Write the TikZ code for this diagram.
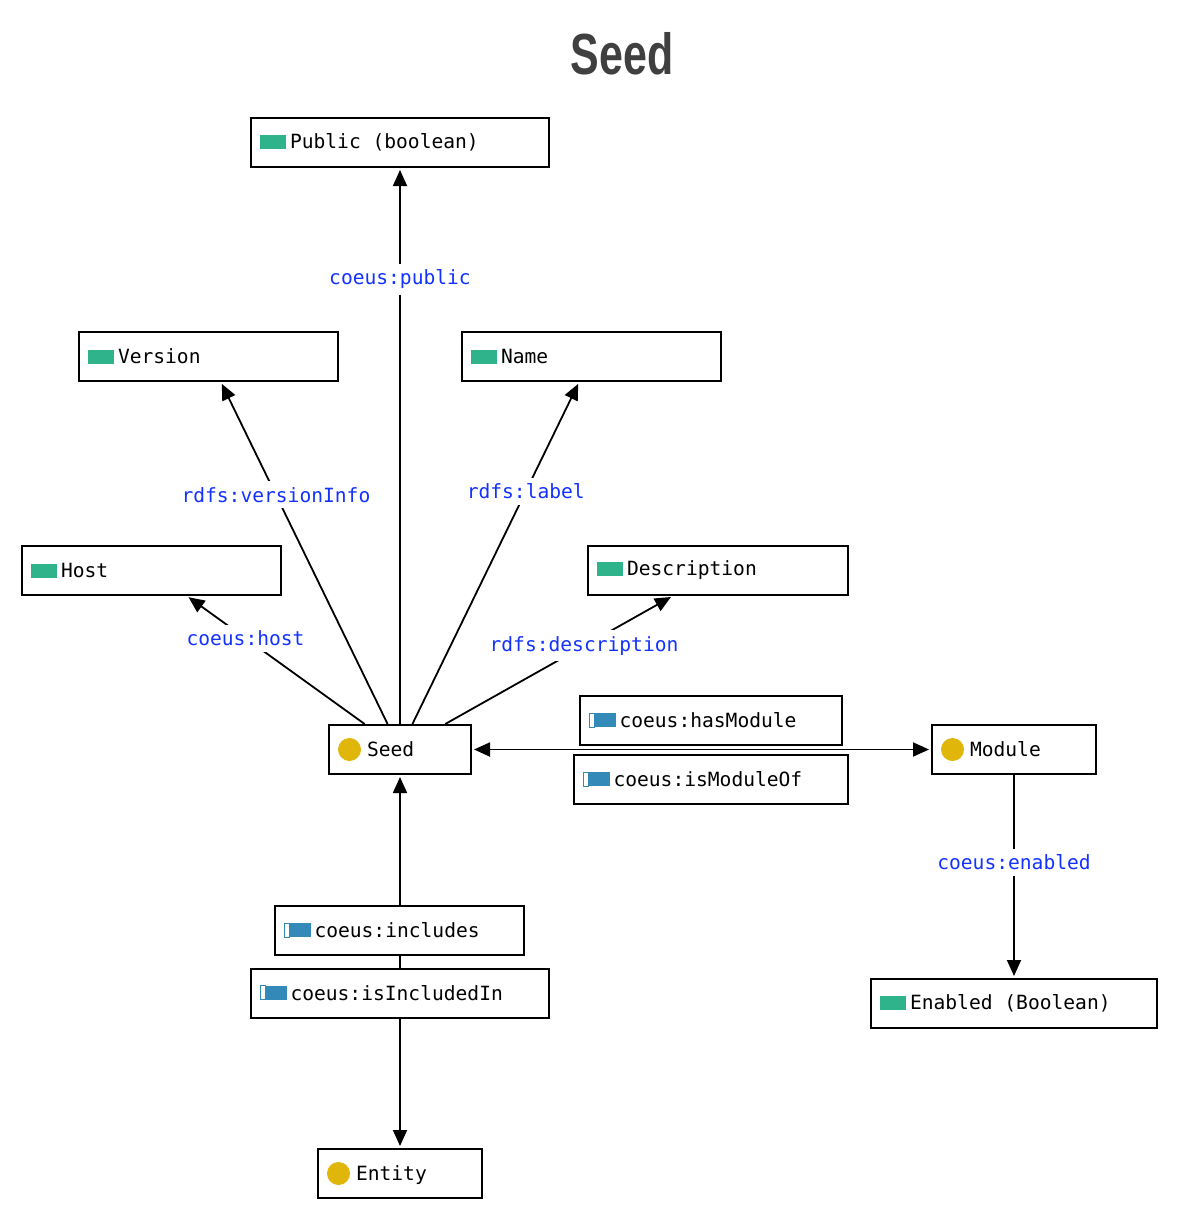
\documentclass[tikz,border=0pt]{standalone}
\usepackage{fontspec}
\setmonofont{DejaVu Sans Mono}
\newfontfamily\titlefont{Liberation Sans}
\usetikzlibrary{arrows.meta}
\definecolor{propgreen}{RGB}{46,179,139}
\definecolor{classyellow}{RGB}{224,182,10}
\definecolor{objblue}{RGB}{51,138,184}
\definecolor{linkblue}{RGB}{20,50,255}
\definecolor{titlegray}{RGB}{64,64,64}
\newcommand{\propicon}{\textcolor{propgreen}{\rule{13pt}{7pt}}\hspace{2pt}}
\newcommand{\classicon}{\raisebox{-2.2pt}{\tikz\fill[classyellow] (0pt,0pt) circle (5.75pt);}\hspace{3pt}}
\newcommand{\objicon}{\tikz{\draw[objblue, line width=0.5pt, fill=white] (0pt,0pt) rectangle (2.5pt,7pt);
    \fill[objblue] (2.5pt,0pt) rectangle (13pt,7pt);}\hspace{2pt}}
\newcommand{\monotext}{\fontsize{9.8}{12}\selectfont\ttfamily}
\newcommand{\monospc}{\hspace{0.602em}}

\begin{document}
\begin{tikzpicture}
    [
    x=0.5pt, y=-0.5pt,
    arrow/.style={
        line width=0.9pt,
        -{Triangle[length=8pt,width=7pt]},
        shorten >=1pt
    },
    box/.style={
        draw,
        rectangle,
        line width=1pt,
        fill=white,
        minimum height=24.5pt,
        inner xsep=4.5pt,
        font=\monotext,
        align=left
    },
    link/.style={
        fill=white,
        text=linkblue,
        inner xsep=1pt,
        inner ysep=3pt,
        font=\monotext
    },
    ]
    \useasboundingbox (0,0) rectangle (1180,1220);

    \draw (622,54) node[font=\titlefont\fontsize{29}{30}\selectfont\bfseries, text=titlegray] (title) {\scalebox{0.74}[1]{Seed}};

    \draw (400,142.5) node[box, text width=140pt] (public) {\propicon Public\monospc(boolean)};
    \draw (208.5,356.5) node[box, text width=120.5pt] (version) {\propicon Version};
    \draw (591.5,356.5) node[box, text width=120.5pt] (name) {\propicon Name};
    \draw (151.5,570.5) node[box, text width=120.5pt] (host) {\propicon Host};
    \draw (718,570.5) node[box, text width=121pt] (description) {\propicon Description};
    \draw (400,749.5) node[box, text width=62pt] (seed) {\classicon Seed};
    \draw (1014,749.5) node[box, text width=73pt] (module) {\classicon Module};
    \draw (400,1173.5) node[box, text width=73pt] (entity) {\classicon Entity};
    \draw (1014,1003.5) node[box, text width=134pt] (enabled) {\propicon Enabled\monospc(Boolean)};

    \draw [arrow] (seed) -- (public) node[pos=.8,link] {coeus:public};
    \draw [arrow] (seed) -- (version) node[pos=.67,link] {rdfs:versionInfo};
    \draw [arrow] (seed) -- (name) node[pos=.68,link] {rdfs:label};
    \draw [arrow] (seed) -- (host) node[pos=.67,link] {coeus:host};
    \draw [arrow] (seed) -- (description) node[pos=.61,link] {rdfs:description};
    \draw [arrow] (module) -- (enabled) node[pos=.43,link] {coeus:enabled};
    \draw [arrow, {Triangle[length=8pt,width=7pt]}-{Triangle[length=8pt,width=7pt]}, shorten <=1pt] (seed) -- (module);
    \draw [arrow, {Triangle[length=8pt,width=7pt]}-{Triangle[length=8pt,width=7pt]}, shorten <=1pt] (seed) -- (entity);

    % inverse property pairs sit on top of the links
    \draw (711,720.5) node[box, text width=122pt] (hasmodule) {\objicon coeus:hasModule};
    \draw (711,779.5) node[box, text width=128pt] (ismoduleof) {\objicon coeus:isModuleOf};
    \draw (399.5,930.5) node[box, text width=115.5pt] (includes) {\objicon coeus:includes};
    \draw (400,993) node[box, text width=140pt] (isincludedin) {\objicon coeus:isIncludedIn};

\end{tikzpicture}
\end{document}
